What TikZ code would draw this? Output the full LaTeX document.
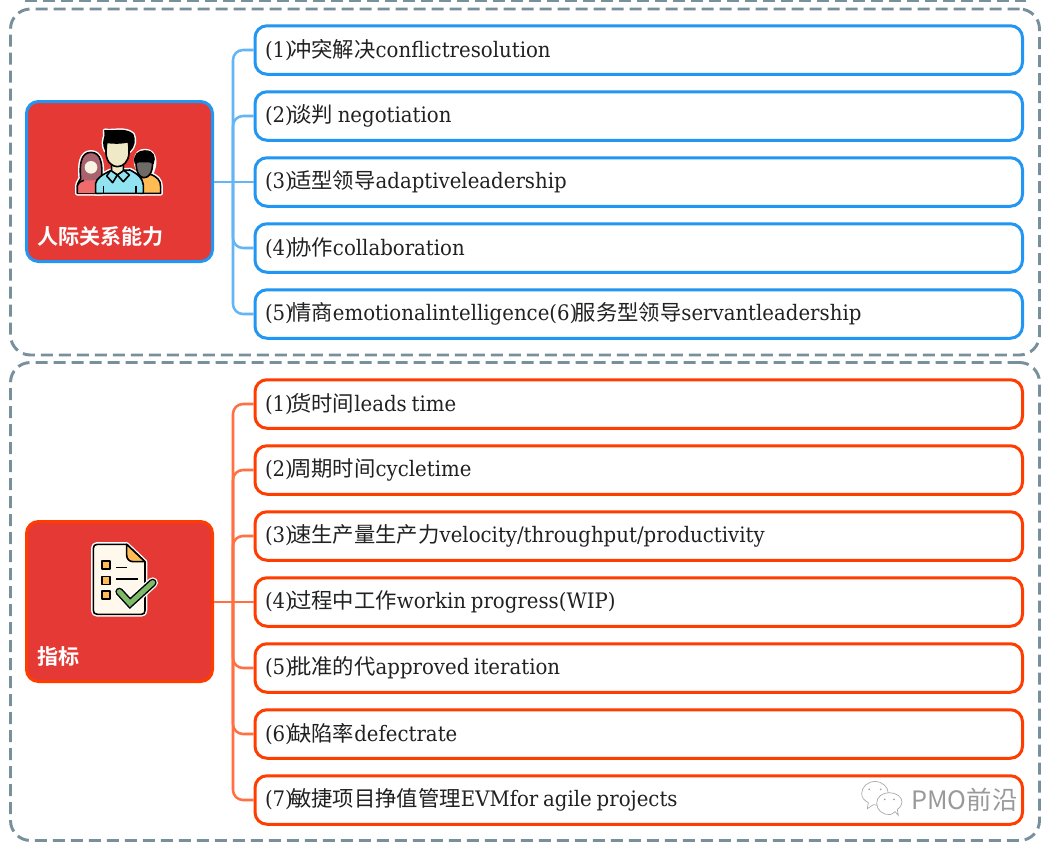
\documentclass[tikz,border=0pt]{standalone}
\usepackage{fontspec}
\setmainfont{DejaVu Serif}[FakeStretch=0.925]
\newfontfamily\zhf{Noto Sans CJK SC}
\newfontfamily\zhb{Noto Sans CJK SC}[BoldFont=* Bold]
\newcommand{\zh}[1]{{\zhf #1}}
\newcommand{\pn}[1]{(#1)\kern-2pt\relax}
\newcommand{\wsp}{\kern3.6pt\relax}
\definecolor{panelc}{HTML}{78909C}
\definecolor{bluec}{HTML}{2196F3}
\definecolor{bluel}{HTML}{64B5F6}
\definecolor{redc}{HTML}{FF3D00}
\definecolor{redl}{HTML}{FF7043}
\definecolor{mainf}{HTML}{E53935}
\definecolor{txt}{HTML}{212121}
\definecolor{skin}{HTML}{EFE9C8}
\definecolor{shirt}{HTML}{90E4F1}
\definecolor{yel}{HTML}{FFBC54}
\definecolor{pinkb}{HTML}{F06B6B}
\definecolor{hairw}{HTML}{A9636F}
\definecolor{grayh}{HTML}{6E6B66}
\definecolor{cream}{HTML}{FFF8EC}
\definecolor{grn}{HTML}{7DBB69}
\tikzset{
  panel/.style={draw=panelc,line width=2.2pt,dash pattern=on 9pt off 4.5pt,rounded corners=15pt,minimum width=1029*0.75pt,inner sep=0pt},
  itembox/.style={draw=#1,fill=white,line width=2.25pt,rounded corners=9pt,minimum width=767.5*0.75pt,minimum height=48.5*0.75pt,
    text width=747.5*0.75pt,align=left,inner sep=0pt,font=\fontsize{16}{18}\selectfont,text=txt},
  mainbox/.style={draw=#1,fill=mainf,line width=2.25pt,rounded corners=9pt,minimum width=186*0.75pt,minimum height=160*0.75pt,inner sep=0pt},
  mainlabel/.style={anchor=west,inner sep=0pt,text=white,font=\zhb\bfseries\fontsize{15.8}{18}\selectfont},
  conn/.style={draw=#1,line width=1.9pt,rounded corners=7.5pt},
  halo/.style={draw=white,line width=3.4pt,line join=round},
  ink/.style={draw=black,line width=1.2pt,line join=round},
  wm/.style={draw=gray!70,line width=0.5pt,fill=white}
}
\newcommand{\pWoman}{(52,235) -- (52,212) .. controls (54,200) and (60,197) .. (62,190) .. controls (58,150) and (62,112) .. (93,112) .. controls (124,112) and (128,150) .. (125,190) -- (125,235) -- cycle}
\newcommand{\pOther}{(240,235) -- (240,170) .. controls (222,150) and (222,108) .. (255,108) .. controls (288,108) and (288,150) .. (272,178) .. controls (290,185) and (302,195) .. (302,215) -- (302,235) -- cycle}
\newcommand{\pManB}{(107,235) -- (107,205) .. controls (110,190) and (125,180) .. (150,168) -- (210,165) .. controls (235,178) and (248,190) .. (250,210) -- (250,235) -- cycle}
\newcommand{\pHair}{(136,62) -- (135,47) .. controls (160,52) and (195,38) .. (218,58) .. controls (226,75) and (222,95) .. (208,108) -- (205,80) .. controls (185,85) and (160,85) .. (140,82) -- (138,108) .. controls (128,90) and (132,75) .. (136,62) -- cycle}
\newcommand{\pDoc}{(52,28) -- (140,28) -- (195,80) -- (195,226) .. controls (195,234) and (192,238) .. (184,238) -- (52,238) .. controls (44,238) and (40,234) .. (40,226) -- (40,40) .. controls (40,32) and (44,28) .. (52,28) -- cycle}
\newcommand{\pCheck}{(118,170) -- (150,205) -- (218,143)}
\begin{document}
\begin{tikzpicture}[x=0.75pt,y=-0.75pt]
\useasboundingbox (0,0) rectangle (1051,847);
\fill[white] (0,0) rectangle (1051,847);
\coordinate (stripeL) at (25,1);
\coordinate (stripeR) at (1026,1);
\draw[panelc,line width=2.2pt,dash pattern=on 9pt off 4.5pt] (stripeL) -- (stripeR);
\node[panel,minimum height=346*0.75pt] (p1) at (525,182) {};
\node[panel,minimum height=478*0.75pt] (p2) at (525,601.5) {};
% items, top group
\node[itembox=bluec] (a1) at (638.75,50) {\pn{1}\zh{冲突解决}conflictresolution};
\node[itembox=bluec] (a2) at (638.75,116) {\pn{2}\zh{谈判}\wsp negotiation};
\node[itembox=bluec] (a3) at (638.75,182) {\pn{3}\zh{适型领导}adaptiveleadership};
\node[itembox=bluec] (a4) at (638.75,248) {\pn{4}\zh{协作}collaboration};
\node[itembox=bluec] (a5) at (638.75,314) {\pn{5}\zh{情商}emotionalintelligence\pn{6}\zh{服务型领导}servantleadership};
% items, bottom group
\node[itembox=redc] (b1) at (638.75,404) {\pn{1}\zh{货时间}leads\wsp time};
\node[itembox=redc] (b2) at (638.75,470) {\pn{2}\zh{周期时间}cycletime};
\node[itembox=redc] (b3) at (638.75,536) {\pn{3}\zh{速生产量生产力}velocity/throughput/productivity};
\node[itembox=redc] (b4) at (638.75,602) {\pn{4}\zh{过程中工作}workin\wsp progress(WIP)};
\node[itembox=redc] (b5) at (638.75,668) {\pn{5}\zh{批准的代}approved\wsp iteration};
\node[itembox=redc] (b6) at (638.75,734) {\pn{6}\zh{缺陷率}defectrate};
\node[itembox=redc] (b7) at (638.75,800) {\pn{7}\zh{敏捷项目挣值管理}EVMfor\wsp agile\wsp projects};
% main boxes
\node[mainbox=bluec] (m1) at (119.5,181.5) {};
\node[mainbox=redc] (m2) at (119.5,601.5) {};
\node[mainlabel] (l1) at (37,237) {人际关系能力};
\node[mainlabel] (l2) at (37,656) {指标};
% connectors
\coordinate (t1) at (233,182);
\coordinate (t2) at (233,602);
\draw[conn=bluel] (a1.west) -| (t1) |- (a5.west);
\draw[conn=bluel] (a2.west) -| (t1);
\draw[conn=bluel] (a4.west) -| (t1);
\draw[conn=bluel] (m1.east |- t1) -- (a3.west);
\draw[conn=redl] (b1.west) -| (t2) |- (b7.west);
\draw[conn=redl] (b2.west) -| (t2);
\draw[conn=redl] (b3.west) -| (t2);
\draw[conn=redl] (b5.west) -| (t2);
\draw[conn=redl] (b6.west) -| (t2);
\draw[conn=redl] (m2.east |- t2) -- (b4.west);
% people icon
\begin{scope}[shift={(60,115)},x=0.25pt,y=-0.25pt]
  \draw[halo] \pWoman;
  \draw[halo] \pOther;
  \draw[halo] \pManB;
  \draw[halo] \pHair;
  \draw[ink,fill=hairw] \pWoman;
  \fill[pinkb] (54,234) -- (54,212) .. controls (56,203) and (62,200) .. (72,196) -- (110,196) -- (110,234) -- cycle;
  \draw[ink] (52,235) -- (52,212) .. controls (54,203) and (60,200) .. (72,196);
  \fill[skin!50!white] (93,157) ellipse (19 and 19);
  \draw[ink,fill=yel] (240,235) -- (240,190) -- (272,178) .. controls (290,185) and (302,195) .. (302,215) -- (302,235) -- cycle;
  \draw[ink,fill=grayh] (228,140) .. controls (228,175) and (240,188) .. (252,188) .. controls (266,188) and (278,175) .. (278,140) -- cycle;
  \draw[ink,fill=black] (226,145) .. controls (220,120) and (235,108) .. (255,108) .. controls (282,108) and (286,128) .. (279,145) .. controls (262,132) and (245,132) .. (226,145) -- cycle;
  \draw[ink,fill=shirt] \pManB;
  \draw[ink] (130,212) -- (130,235) (228,212) -- (228,235);
  \draw[ink,fill=skin] (155,140) -- (190,140) -- (190,170) -- (172,180) -- (155,170) -- cycle;
  \draw[ink,fill=shirt] (152,166) -- (172,180) -- (158,203) -- (140,183) -- cycle;
  \draw[ink,fill=shirt] (192,166) -- (172,180) -- (190,200) -- (208,180) -- cycle;
  \draw[ink,fill=skin] (138,80) -- (138,115) .. controls (140,145) and (160,155) .. (172,155) .. controls (190,155) and (205,140) .. (207,115) -- (207,80) -- cycle;
  \draw[ink,fill=black] \pHair;
\end{scope}
% checklist icon
\begin{scope}[shift={(80,535)},x=0.25pt,y=-0.25pt]
  \draw[halo] \pDoc;
  \draw[ink,fill=cream] \pDoc;
  \draw[ink,fill=yel] (140,28) -- (195,80) -- (160,80) .. controls (148,80) and (140,72) .. (140,60) -- cycle;
  \draw[ink,fill=yel] (66,78) rectangle (90,102);
  \draw[ink,fill=yel] (66,125) rectangle (90,148);
  \draw[ink,fill=yel] (66,168) rectangle (90,192);
  \draw[ink] (108,97) -- (140,97) (108,132) -- (175,132);
  \draw[white,line width=8pt,line cap=round,line join=miter] \pCheck;
  \draw[black,line width=6pt,line cap=round,line join=miter] \pCheck;
  \draw[grn,line width=3.8pt,line cap=round,line join=miter] \pCheck;
\end{scope}
% watermark
\begin{scope}[shift={(840,760)},x=0.25pt,y=-0.25pt]
  \draw[wm] (85,128) -- (82,146) -- (100,134) .. controls (125,140) and (145,125) .. (145,100) .. controls (145,80) and (125,64) .. (105,64) .. controls (85,64) and (65,80) .. (65,100) .. controls (65,112) and (72,122) .. (85,128) -- cycle;
  \draw[wm] (165,155) -- (175,166) -- (172,148) .. controls (182,142) and (186,132) .. (186,126) .. controls (186,110) and (168,98) .. (148,98) .. controls (128,98) and (110,110) .. (110,130) .. controls (110,150) and (128,164) .. (148,164) .. controls (154,164) and (160,160) .. (165,155) -- cycle;
  \fill[gray!70] (88,88) circle (3) (122,88) circle (3) (134,118) circle (3) (162,118) circle (3);
\end{scope}
\node[anchor=west,inner sep=0pt,text=black!40,font=\zhf\fontsize{19}{21}\selectfont] (wmtext) at (911,800) {PMO前沿};
\end{tikzpicture}
\end{document}
